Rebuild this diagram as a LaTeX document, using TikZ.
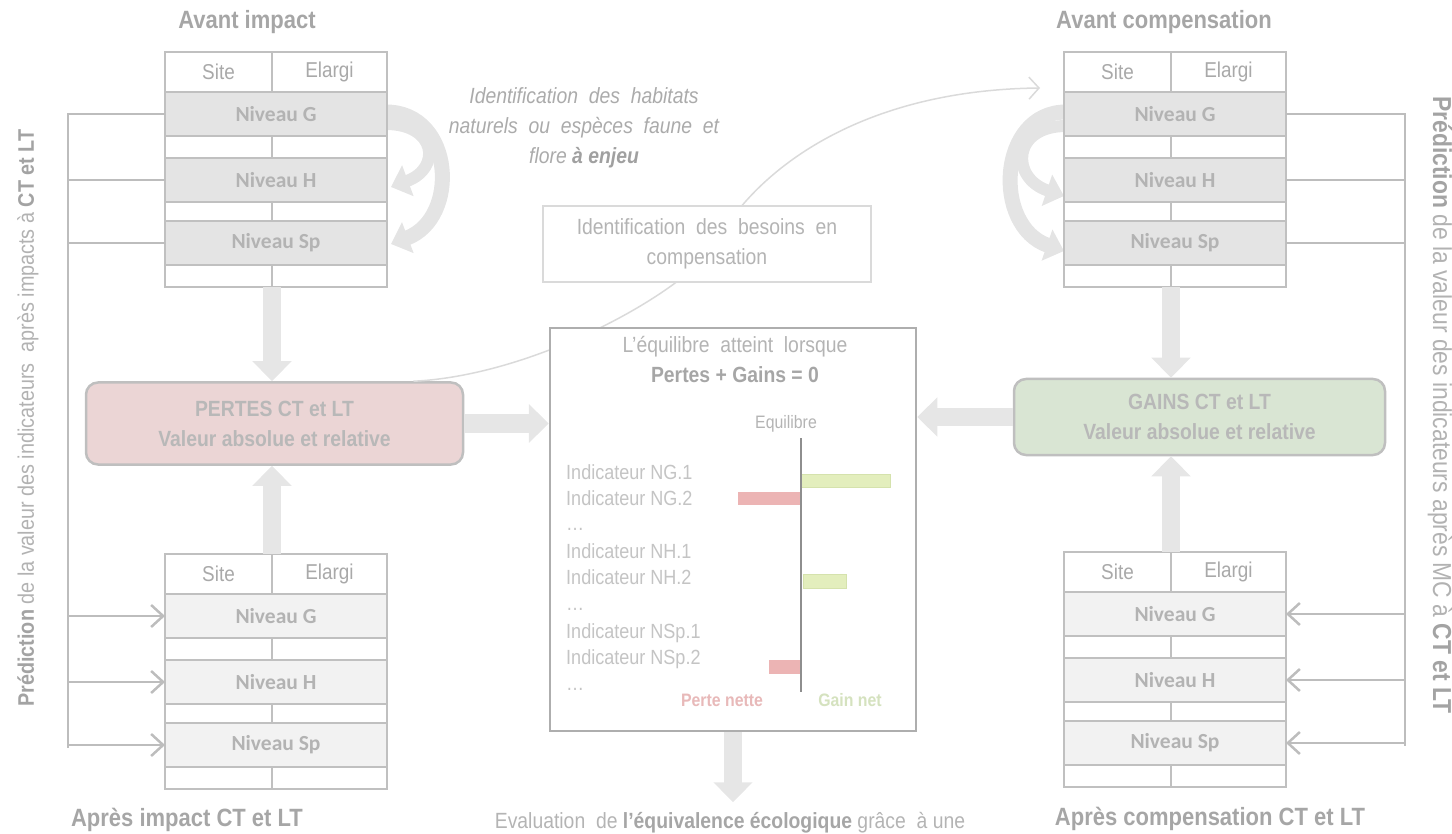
\documentclass[tikz,border=0pt]{standalone}
\usepackage{fontspec}
\setmainfont{Liberation Sans}[FakeStretch=0.88]
\newfontfamily\calib{Carlito}
\usetikzlibrary{arrows.meta}

\definecolor{tline}{HTML}{C0C0C0}
\definecolor{bline}{HTML}{BDBDBD}
\definecolor{topfill}{HTML}{E4E4E4}
\definecolor{botfill}{HTML}{F2F2F2}
\definecolor{titlegray}{HTML}{A6A6A6}
\definecolor{cellgray}{HTML}{A9A9A9}
\definecolor{levelgray}{HTML}{B3B3B3}
\definecolor{lossfill}{HTML}{EBD5D5}
\definecolor{gainfill}{HTML}{D9E5D3}
\definecolor{boxline}{HTML}{BFBFBF}
\definecolor{boxtext}{HTML}{B8B8B8}
\definecolor{arrowfill}{HTML}{E6E6E6}
\definecolor{cycfill}{HTML}{E4E4E4}
\definecolor{cboxline}{HTML}{AEAEAE}
\definecolor{softline}{HTML}{DADADA}
\definecolor{ctextgray}{HTML}{B4B4B4}
\definecolor{cboldgray}{HTML}{A6A6A6}
\definecolor{indgray}{HTML}{C4C4C4}
\definecolor{axisgray}{HTML}{8E8E8E}
\definecolor{gainbar}{HTML}{E3EEBD}
\definecolor{gainbarline}{HTML}{D5E2AD}
\definecolor{lossbar}{HTML}{ECB4B4}
\definecolor{losstext}{HTML}{E8B9B9}
\definecolor{gaintext}{HTML}{D5E2BF}
\definecolor{itgray}{HTML}{ABABAB}
\definecolor{itbold}{HTML}{A0A0A0}
\definecolor{rotgray}{HTML}{B2B2B2}
\definecolor{rotbold}{HTML}{A3A3A3}

\newcommand\fsz[2]{\fontsize{#1pt}{#2pt}\selectfont}

% one indicator table: name prefix, left x, top y, fill of the level rows
\newcommand{\leveltable}[4]{%
  \node[cell, minimum width=107pt, minimum height=40pt] (#1Sl) at (#2,#3) {Site};
  \node[cell, minimum width=115pt, minimum height=40pt] (#1Sr) at ({#2+107},#3) {Elargi};
  \node[level, fill=#4, minimum width=222pt, minimum height=44pt] (#1G) at (#2,{#3+40}) {Niveau G};
  \node[cell, minimum width=107pt, minimum height=22pt] (#1Al) at (#2,{#3+84}) {};
  \node[cell, minimum width=115pt, minimum height=22pt] (#1Ar) at ({#2+107},{#3+84}) {};
  \node[level, fill=#4, minimum width=222pt, minimum height=44pt] (#1H) at (#2,{#3+106}) {Niveau H};
  \node[cell, minimum width=107pt, minimum height=19pt] (#1Bl) at (#2,{#3+150}) {};
  \node[cell, minimum width=115pt, minimum height=19pt] (#1Br) at ({#2+107},{#3+150}) {};
  \node[level, fill=#4, minimum width=222pt, minimum height=44pt] (#1Sp) at (#2,{#3+169}) {Niveau Sp};
  \node[cell, minimum width=107pt, minimum height=22pt] (#1Cl) at (#2,{#3+213}) {};
  \node[cell, minimum width=115pt, minimum height=22pt] (#1Cr) at ({#2+107},{#3+213}) {};
}

\begin{document}
\begin{tikzpicture}[x=1pt, y=-1pt,
  cell/.style={draw=tline, line width=2pt, fill=white, inner sep=0pt, outer sep=0pt,
    anchor=north west, font=\fsz{21.5}{24}, text=cellgray},
  level/.style={cell, font=\calib\bfseries\fsz{21.5}{24}, text=levelgray},
  title/.style={font=\bfseries\fsz{25}{28}, text=titlegray, inner sep=0pt},
  valuebox/.style={draw=boxline, line width=2.5pt, rounded corners=12pt, align=center,
    font=\bfseries\fsz{22}{30}, text=boxtext, inner sep=0pt},
  blockarrow/.style={draw=arrowfill, line width=18pt, -{Triangle[length=20pt,width=38pt]}},
  cycarrow/.style={draw=cycfill, line width=#1, -{Triangle[length=18pt,width=32pt]}},
  bracket/.style={draw=bline, line width=2.5pt},
  barb/.style={bracket, -{Straight Barb[length=12pt,width=22pt]}},
  thincurve/.style={draw=softline, line width=1.5pt, -{Straight Barb[length=10pt,width=22pt]}},
  ctext/.style={font=\fsz{22}{26}, text=ctextgray, inner sep=0pt},
  ind/.style={font=\fsz{20.5}{24}, text=indgray, inner sep=0pt, anchor=west,
    text height=15pt, text depth=0pt},
  rottext/.style={font=\fsz{#1}{#1}, text=rotgray, inner sep=0pt},
]
\useasboundingbox (0,0) rectangle (1452,834);
\clip (0,0) rectangle (1452,834);

% ---------- bend point of the thin curve ----------
\coordinate (bend) at (716,243);

% ---------- curved arrows beside the upper tables ----------
\draw[cycarrow=15pt] (386,112) .. controls (454,112) and (460,218) .. (391,244);
\draw[cycarrow=12pt] (386,124) .. controls (436,124) and (442,168) .. (391,187);
\draw[cycarrow=15pt] (1066,112) .. controls (998,112) and (992,226) .. (1064,251);
\draw[cycarrow=12pt] (1066,126) .. controls (1012,126) and (1010,178) .. (1064,196);

% ---------- tables ----------
\leveltable{tl}{165}{52}{topfill}
\leveltable{tr}{1064}{52}{topfill}
\leveltable{bl}{165}{554}{botfill}
\leveltable{br}{1064}{552}{botfill}

\node[title] (tlTitle) at (247,22) {Avant impact};
\node[title] (trTitle) at (1164,22) {Avant compensation};
\node[title] (blTitle) at (187,820) {Après impact CT et LT};
\node[title] (brTitle) at (1210,819) {Après compensation CT et LT};

% ---------- value boxes ----------
\node[valuebox, fill=lossfill, minimum width=377pt, minimum height=82pt] (pertes) at (274.5,423.5)
  {PERTES CT et LT\\Valeur absolue et relative};
\node[valuebox, fill=gainfill, minimum width=371pt, minimum height=76pt] (gains) at (1199.5,417)
  {GAINS CT et LT\\Valeur absolue et relative};

% thin curve (drawn before the white boxes that hide part of it)
\draw[thincurve] ([xshift=139pt]pertes.north) .. controls (540,375) and (690,288) .. (bend)
  .. controls (756,170) and (860,90) .. ([xshift=-24pt,yshift=4pt]trSl.south west);

% ---------- balance box ----------
\node[draw=cboxline, line width=2.5pt, fill=white, minimum width=366pt, minimum height=403pt,
  inner sep=0pt] (cbox) at (733,529.5) {};

\node[draw=softline, line width=1.5pt, fill=white, minimum width=328pt, minimum height=76pt,
  inner sep=0pt, align=center, font=\fsz{22}{30}, text=ctextgray] (besoins) at (707,244)
  {Identification\ \ des\ \ besoins\ \ en\\compensation};

\node[font=\itshape\fsz{22}{30}, text=itgray, align=center, inner sep=0pt] (enjeu) at (584,128)
  {Identification\ \ des\ \ habitats\\naturels\ \ ou\ \ espèces\ \ faune\ \ et\\flore {\bfseries\color{itbold}à enjeu}};

% ---------- block arrows ----------
\draw[blockarrow] (tlCl.south east) -- (tlCl.south east |- pertes.north);
\draw[blockarrow] (blSl.north east) -- (blSl.north east |- pertes.south);
\draw[blockarrow] (trCl.south east) -- (trCl.south east |- gains.north);
\draw[blockarrow] (brSl.north east) -- (brSl.north east |- gains.south);
\draw[blockarrow] (pertes.east) -- (pertes.east -| cbox.west);
\draw[blockarrow] (gains.west) -- (gains.west -| cbox.east);

% ---------- balance content ----------
\node[ctext] (eqtitle) at (735,347) {L’équilibre\ \ atteint\ \ lorsque};
\node[ctext, font=\bfseries\fsz{22}{26}, text=cboldgray] (eqsum) at (735,375) {Pertes + Gains = 0};
\node[ctext, font=\fsz{18}{20}] (eqlab) at (786,424) {Equilibre};

\node[ind] (ng1) at (566,472) {Indicateur NG.1};
\node[ind] (ng2) at (566,497.5) {Indicateur NG.2};
\node[ind] (d1) at (566,523) {…};
\node[ind] (nh1) at (566,551) {Indicateur NH.1};
\node[ind] (nh2) at (566,577) {Indicateur NH.2};
\node[ind] (d2) at (566,602.5) {…};
\node[ind] (ns1) at (566,631) {Indicateur NSp.1};
\node[ind] (ns2) at (566,657) {Indicateur NSp.2};
\node[ind] (d3) at (566,682.5) {…};

\draw[draw=gainbarline, fill=gainbar, line width=1pt] (801,474) rectangle (890,487);
\draw[draw=lossbar, fill=lossbar, line width=1pt] (738,492) rectangle (801,504);
\draw[draw=gainbarline, fill=gainbar, line width=1pt] (803,574) rectangle (846,588);
\draw[draw=lossbar, fill=lossbar, line width=1pt] (769,660) rectangle (801,673);
\coordinate (axTop) at (801,438);
\coordinate (axBot) at (801,692);
\draw[draw=axisgray, line width=1.5pt] (axTop) -- (axBot);

\node[font=\bfseries\fsz{18}{20}, text=losstext, inner sep=0pt] (perte) at (722,700) {Perte nette};
\node[font=\bfseries\fsz{18}{20}, text=gaintext, inner sep=0pt] (gain) at (850,700) {Gain net};

\node[font=\fsz{22}{26}, text=ctextgray, anchor=base] (evaluation) at (730,828)
  {Evaluation\ \ de {\bfseries\color{cboldgray}l’équivalence écologique} grâce\ \ à une};
\draw[blockarrow, shorten >=6pt] (cbox.south) -- (cbox.south |- evaluation.north);

% ---------- prediction brackets ----------
\coordinate (lbusBot) at (68,748);
\coordinate (rbusBot) at (1405,746);
\draw[bracket] (tlG.west) -| (lbusBot);
\draw[bracket] (tlH.west) -- (tlH.west -| lbusBot);
\draw[bracket] (tlSp.west) -- (tlSp.west -| lbusBot);
\draw[barb] (blG.west -| lbusBot) -- (blG.west);
\draw[barb] (blH.west -| lbusBot) -- (blH.west);
\draw[barb] (blSp.west -| lbusBot) -- (blSp.west);

\draw[bracket] (trG.east) -| (rbusBot);
\draw[bracket] (trH.east) -- (trH.east -| rbusBot);
\draw[bracket] (trSp.east) -- (trSp.east -| rbusBot);
\draw[barb] (brG.east -| rbusBot) -- (brG.east);
\draw[barb] (brH.east -| rbusBot) -- (brH.east);
\draw[barb] (brSp.east -| rbusBot) -- (brSp.east);

\node[rottext=22.5, rotate=90] (predL) at (28,418)
  {{\bfseries\color{rotbold}Prédiction} de la valeur des indicateurs\ \ après impacts à {\bfseries\color{rotbold}CT et LT}};
\node[rottext=26, rotate=-90] (predR) at (1440,405)
  {{\bfseries\color{rotbold}Prédiction} de la valeur des indicateurs après MC à {\bfseries\color{rotbold}CT et LT}};
\end{tikzpicture}
\end{document}
